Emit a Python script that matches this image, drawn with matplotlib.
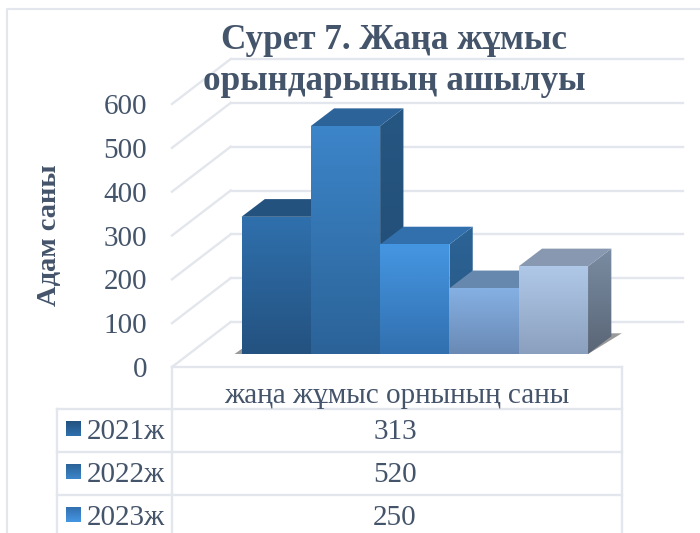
# Сурет 7 - fake 3D column chart with a data table underneath
import numpy as np
import matplotlib
matplotlib.use('Agg')
import matplotlib.pyplot as plt
from matplotlib.colors import LinearSegmentedColormap
from matplotlib.patches import Polygon

title = 'Сурет 7. Жаңа жұмыс\nорындарының ашылуы'
y_title = 'Адам саны'
table_header = 'жаңа жұмыс орнының саны'

# data
values = [313, 520, 250, 150, 200]
y_ticks = [0, 100, 200, 300, 400, 500, 600]
# only three rows of the table are inside the picture
row_names = ['2021ж', '2022ж', '2023ж']
row_values = [313, 520, 250]

# colours: front top/bottom, cap, side top/bottom
front_top = ['#2F70AD', '#3C85C9', '#4596E2', '#85B0E3', '#B0C8E8']
front_bot = ['#245280', '#2B6398', '#3270AF', '#6A8AB5', '#8BA0BE']
cap_col = ['#23527F', '#2C649A', '#3170AC', '#6688AF', '#8898B0']
side_top = ['#23527F', '#265682', '#2C6496', '#5A7AA0', '#7A8CA2']
side_bot = ['#1E4870', '#204C74', '#265682', '#4A6488', '#5A6677']

TEXT = '#44546A'
GRID = '#E3E6EC'
FONT = 'Liberation Serif'

W, H = 700, 533
px_left, px_right, px_base, px_top = 172, 622, 367, 104

fig = plt.figure(figsize=(W / 100, H / 100), dpi=100)
ax = fig.add_axes([px_left / W, 1 - px_base / H,
                   (px_right - px_left) / W, (px_base - px_top) / H])
ax.patch.set_alpha(0)
for s in ax.spines.values():
    s.set_visible(False)

xlim = (-1.003, 5.49)
ylim = (y_ticks[0], y_ticks[-1])
px_x = (px_right - px_left) / (xlim[1] - xlim[0])
px_y = (px_base - px_top) / (ylim[1] - ylim[0])

# depth of the floor and of the bars, in data units
wall_dx, wall_dy = 58.7 / px_x, 45 / px_y
bar_dx, bar_dy = 23.3 / px_x, 17.7 / px_y
lift = 13 / px_y


def gradient(poly, c1, c2, zorder):
    cmap = LinearSegmentedColormap.from_list('g', [c1, c2])
    pts = np.array(poly)
    im = ax.imshow(np.linspace(0, 1, 64).reshape(-1, 1), cmap=cmap, aspect='auto',
                   extent=(pts[:, 0].min(), pts[:, 0].max(), pts[:, 1].min(), pts[:, 1].max()),
                   origin='upper', zorder=zorder, interpolation='bilinear')
    clip = Polygon(poly, transform=ax.transData)
    im.set_clip_path(clip)


# grid: side wall and back wall
for v in y_ticks:
    ax.plot([xlim[0], xlim[0] + wall_dx], [v, v + wall_dy], color=GRID, lw=1.7, clip_on=False, zorder=1)
    ax.plot([xlim[0] + wall_dx, xlim[1] + wall_dx + 2 / px_x], [v + wall_dy, v + wall_dy],
            color=GRID, lw=1.7, clip_on=False, zorder=1)
ax.plot(xlim, [0, 0], color=GRID, lw=1.7, clip_on=False, zorder=1)

# floor shadow
n = len(values)
ax.add_patch(Polygon([(-0.1, lift), (0, lift + 5 / px_y), (n, lift + 5 / px_y), (n + bar_dx, lift + bar_dy + 3 / px_y),
                      (n + bar_dx + 0.15, lift + bar_dy + 3 / px_y), (n, lift)],
                     facecolor='#555555', edgecolor='none', alpha=0.6, zorder=2))

# bars, left to right so that each one hides the side of the one before
x_pos = np.arange(n)
bars = ax.bar(x_pos, values, width=1, bottom=lift, align='edge', color=front_bot, zorder=3)
for i, (x, v, b) in enumerate(zip(x_pos, values, bars)):
    z = 4 + i * 3
    t = lift + v
    gradient([(x + 1, t), (x + 1 + bar_dx, t + bar_dy), (x + 1 + bar_dx, lift + bar_dy), (x + 1, lift)],
             side_top[i], side_bot[i], z)
    ax.add_patch(Polygon([(x, t), (x + bar_dx, t + bar_dy), (x + 1 + bar_dx, t + bar_dy), (x + 1, t)],
                         facecolor=cap_col[i], edgecolor='none', zorder=z + 1))
    gradient([(x, t), (x + 1, t), (x + 1, lift), (x, lift)], front_top[i], front_bot[i], z + 2)

ax.set_xlim(xlim)
ax.set_ylim(ylim)
ax.set_xticks([])
ax.set_yticks(y_ticks)
ax.tick_params(axis='y', length=0, pad=18, labelsize=21, labelcolor=TEXT)
for lab in ax.get_yticklabels():
    lab.set_fontname(FONT)

ax.set_ylabel(y_title, fontname=FONT, fontsize=20.5, fontweight='bold', color=TEXT)
ax.yaxis.set_label_coords((62 - px_left) / (px_right - px_left), (px_base - 235) / (px_base - px_top))

fig.suptitle(title, x=394 / W, y=1 - 24 / H, ha='center', va='top', fontname=FONT, fontsize=25.3,
             fontweight='bold', color=TEXT, linespacing=1.3, zorder=30)

# table and chart border, drawn in pixel coordinates of the picture
ov = fig.add_axes([0, 0, 1, 1], zorder=5)
ov.set_xlim(0, W)
ov.set_ylim(H, 0)
ov.axis('off')
row_lines = [409, 452, 495]
ov.plot([px_left, px_left], [px_base, H], color=GRID, lw=1.7)
ov.plot([px_right, px_right], [px_base, H], color=GRID, lw=1.7)
ov.plot([57, 57], [row_lines[0], H], color=GRID, lw=1.7)
for yy in row_lines:
    ov.plot([57, px_right], [yy, yy], color=GRID, lw=1.7)
ov.plot([7, 7, W], [H, 9, 9], color=GRID, lw=1.5)
ov.text(397, 396, table_header, ha='center', va='center', fontname=FONT, fontsize=21, color=TEXT)

for i, (name, val) in enumerate(zip(row_names, row_values)):
    yy = row_lines[i]
    ov.imshow(np.linspace(0, 1, 32).reshape(-1, 1), aspect='auto', extent=(66, 81, yy + 27, yy + 12),
              origin='lower', cmap=LinearSegmentedColormap.from_list('k', [front_top[i], front_bot[i]]))
    ov.text(87, yy + 30, name, ha='left', va='baseline', fontname=FONT, fontsize=21, color=TEXT)
    ov.text(395, yy + 30, str(val), ha='center', va='baseline', fontname=FONT, fontsize=21, color=TEXT)
ov.set_xlim(0, W)
ov.set_ylim(H, 0)

fig.savefig('out.png', dpi=100)
